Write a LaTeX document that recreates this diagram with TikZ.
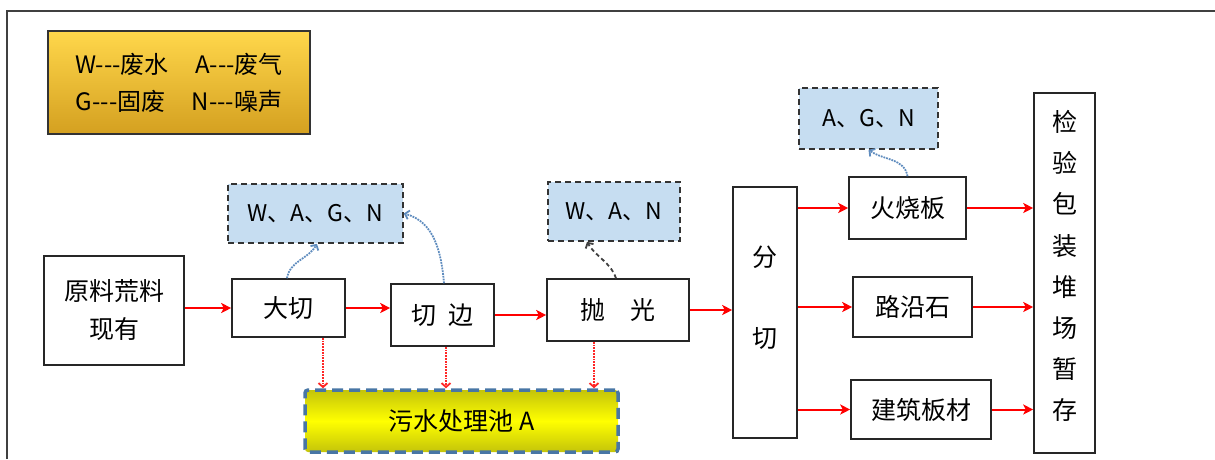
\documentclass[tikz,border=0pt]{standalone}
\usepackage{fontspec}
\setmainfont{Noto Sans CJK SC}
\usetikzlibrary{arrows.meta,calc}
\definecolor{lblue}{RGB}{198,221,241}
\definecolor{bdot}{RGB}{95,140,190}
\definecolor{pblue}{RGB}{72,118,165}
\definecolor{goldt}{RGB}{255,215,75}
\definecolor{goldb}{RGB}{212,160,32}
\definecolor{olivey}{RGB}{196,196,10}
\begin{document}
\begin{tikzpicture}[x=1pt,y=-1pt,
  box/.style={draw=black!85, line width=1.6pt, fill=white, inner sep=0pt, align=center,
    font=\fontsize{25}{30}\selectfont},
  tag/.style={draw=black!80, dash pattern=on 6pt off 4pt, line width=1.6pt, fill=lblue,
    inner sep=0pt, font=\fontsize{23}{28}\selectfont},
  flow/.style={red, line width=2pt, -{Stealth[length=10pt,width=10pt,inset=2.5pt]}},
  drain/.style={red!85, line width=1.8pt, densely dotted, -{Straight Barb[length=4pt,width=9pt]}},
  emit/.style={bdot, line width=1.8pt, densely dotted, -{Straight Barb[length=4pt,width=9pt]}},
  emitk/.style={black!75, line width=1.8pt, dash pattern=on 4pt off 3pt, -{Straight Barb[length=4pt,width=9pt]}}
]
\useasboundingbox (0,0) rectangle (1215,459);
% outer frame
\coordinate (fbl) at (7,459);
\coordinate (ftl) at (7,11);
\coordinate (ftr) at (1215,11);
\draw[black!75, line width=1.4pt] (fbl) -- (ftl) -- (ftr);

% legend
\node[draw=black!80, line width=1.6pt, top color=goldt, bottom color=goldb, inner sep=0pt,
  minimum width=262, minimum height=103, align=center,
  font=\fontsize{24}{37}\selectfont] (legend) at (179,82.5)
  {W-\kern0pt-\kern0pt-废水\hspace{1.1em}A-\kern0pt-\kern0pt-废气\\
   G-\kern0pt-\kern0pt-固废\hspace{1.1em}N-\kern0pt-\kern0pt-噪声};

% main boxes
\node[box, minimum width=140, minimum height=109, font=\fontsize{25}{38}\selectfont] (raw) at (114,310.5) {原料荒料\\现有};
\node[box, minimum width=113, minimum height=58] (dq) at (288.5,308) {大切};
\node[box, minimum width=103, minimum height=62] (qb) at (442.5,315) {切\hspace{0.5em}边};
\node[box, minimum width=142, minimum height=62] (pg) at (618,310) {抛\hspace{1em}光};
\node[box, minimum width=64, minimum height=251] (fq) at (765,312.5) {};
\node[inner sep=0pt, align=center, font=\fontsize{25}{81}\selectfont] (fqt) at (765,297.5) {分\\切};
\node[box, minimum width=117, minimum height=62] (hsb) at (907.5,208) {火烧板};
\node[box, minimum width=119, minimum height=60] (lys) at (912.5,307) {路沿石};
\node[box, minimum width=140, minimum height=59] (jz) at (921,409.5) {建筑板材};
\node[box, minimum width=61, minimum height=360] (jy) at (1064.5,273) {};
\node[inner sep=0pt, align=center, font=\fontsize{25}{41.1}\selectfont] (jyt) at (1064.5,266)
  {检\\验\\包\\装\\堆\\场\\暂\\存};

% emission tags
\node[tag, minimum width=175, minimum height=59] (wagn) at (315.5,213.5) {W、A、G、N};
\node[tag, minimum width=132, minimum height=59] (wan) at (614,211.5) {W、A、N};
\node[tag, minimum width=139, minimum height=61] (agn) at (868.5,118.5) {A、G、N};

% pool
\node[draw=pblue, line width=3.5pt, dash pattern=on 11pt off 6pt, rounded corners=3pt,
  top color=olivey, bottom color=olivey, middle color=yellow,
  minimum width=313, minimum height=62, inner sep=0pt,
  font=\fontsize{25}{30}\selectfont] (pool) at (461.5,421) {污水处理池 A};

% main flow
\draw[flow] (raw.east |- dq.west) -- (dq.west);
\draw[flow] (dq.east) -- (dq.east -| qb.west);
\draw[flow] (qb.east) -- (qb.east -| pg.west);
\draw[flow] (pg.east) -- (pg.east -| fq.west);
\draw[flow] (fq.east |- hsb.west) -- (hsb.west);
\draw[flow] (fq.east |- lys.west) -- (lys.west);
\draw[flow] (fq.east |- jz.west) -- (jz.west);
\draw[flow] (hsb.east) -- (hsb.east -| jy.west);
\draw[flow] (lys.east) -- (lys.east -| jy.west);
\draw[flow] (jz.east) -- (jz.east -| jy.west);

% drains to pool
\coordinate (d1) at ([xshift=34.5]dq.south);
\coordinate (d2) at ([xshift=3.5]qb.south);
\coordinate (d3) at ([xshift=-24]pg.south);
\draw[drain] (d1) -- (d1 |- pool.north);
\draw[drain] (d2) -- (d2 |- pool.north);
\draw[drain] (d3) -- (d3 |- pool.north);

% emissions
\coordinate (e1) at ([xshift=-1.5]dq.north);
\coordinate (e2) at ([xshift=1.5]qb.north);
\coordinate (e3) at ([xshift=-2]pg.north);
\coordinate (t3) at ([xshift=-27]wan.south);
\draw[emit] (e1) to[out=80,in=-120] ([xshift=1.5]wagn.south);
\draw[emit] (e2) to[out=95,in=-15] (wagn.east);
\draw[emitk] (e3) to[out=110,in=-60] (t3);
\draw[emit] (hsb.north) to[out=100,in=-35] (agn.south);
\end{tikzpicture}
\end{document}
